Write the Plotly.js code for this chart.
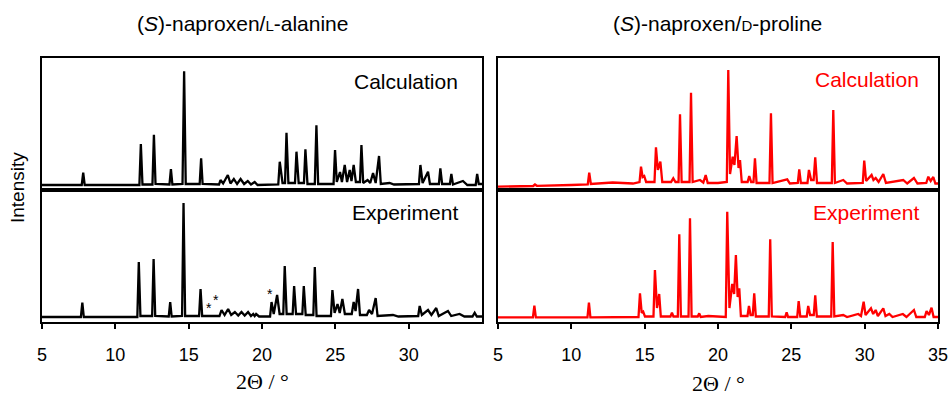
<!DOCTYPE html>
<html>
<head>
<meta charset="utf-8">
<script src="https://cdn.plot.ly/plotly-3.0.1.min.js"></script>
<style>html,body{margin:0;padding:0;background:#fff;}#chart{width:950px;height:396px;}</style>
</head>
<body>
<div id="chart"></div>
<script>
// 2Theta (deg) / intensity (arb.) pairs
const alanineCalc = [[5,5],[7.71,5],[7.81,17.3],[7.91,5],[11.64,5],[11.74,46],[11.85,5.5],[12.53,5.5],[12.63,55.3],[12.74,6],[13.69,5.5],[13.79,21],[13.89,5.5],[14.58,6],[14.69,118.7],[14.8,6],[15.75,6],[15.85,31.7],[15.95,6],[17.07,5.5],[17.17,10],[17.35,6.5],[17.67,15],[17.85,6.5],[18.08,11],[18.3,6],[18.54,11],[18.78,6],[19.03,9],[19.25,5.5],[19.5,8],[19.7,5],[21.11,5.5],[21.21,28.3],[21.4,7],[21.57,7],[21.67,57.3],[21.8,7],[22.25,7],[22.35,38.3],[22.5,7],[22.86,7],[22.96,40.7],[23.1,6],[23.6,6],[23.71,64.7],[23.83,6],[24.88,6],[24.98,40],[25.1,8],[25.32,18],[25.45,8],[25.64,25],[25.8,8],[25.98,20],[26.1,9],[26.25,25],[26.4,8],[26.68,8],[26.78,45],[26.9,7],[27.2,10],[27.38,7],[27.57,17],[27.75,7],[27.98,34],[28.1,6],[28.7,7],[29.0,5.5],[29.7,6],[30.0,5.5],[30.7,6],[30.8,25],[30.95,7],[31.32,18.3],[31.45,6],[32.06,6],[32.16,21.7],[32.28,6],[32.81,6],[32.91,16],[33.02,5.5],[33.7,9],[34.0,5],[34.57,5],[34.67,16],[34.78,6],[35,6]];
const alanineExp = [[5,5],[7.65,5],[7.75,19.3],[7.85,5],[11.5,5],[11.6,60],[11.71,6],[12.51,6],[12.61,63],[12.72,6],[13.64,5.5],[13.74,20],[13.84,5.5],[14.55,6],[14.65,119],[14.76,6],[15.71,6],[15.81,33],[15.92,6],[17.1,6],[17.24,12],[17.45,7],[17.69,13],[17.9,7],[18.15,10],[18.38,6.5],[18.6,10],[18.82,6.5],[19.05,10],[19.25,6],[19.4,8],[19.5,6],[19.6,8],[19.8,5.5],[20.55,5.5],[20.65,20],[20.8,8],[21.03,27],[21.2,8],[21.45,8],[21.55,56],[21.68,8],[22.09,8],[22.19,36],[22.32,8],[22.75,8],[22.85,36],[22.98,7],[23.5,7],[23.6,55],[23.72,6],[24.7,6],[24.8,32],[24.95,9],[25.15,18],[25.3,9],[25.48,23],[25.65,8],[26.12,8],[26.25,20],[26.38,11],[26.55,33],[26.68,7],[27.15,7],[27.3,12],[27.5,8],[27.75,24],[27.88,6],[28.93,7],[29.3,5.5],[30.65,6],[30.75,16],[30.9,7],[31.32,12],[31.55,7],[31.88,14],[32.05,6],[32.68,11],[32.9,6],[33.47,8],[33.8,5.5],[34.35,5.5],[34.5,9.3],[34.65,5.5],[35,5.5]];
const prolineCalc = [[5,3.3],[7.4,4],[7.52,5.5],[7.65,4.2],[10,5],[11.12,5.5],[11.22,17.3],[11.33,6],[12.82,7.5],[14.2,6.5],[14.65,8],[14.75,23.3],[14.86,13],[14.97,14],[15.1,8],[15.67,8],[15.77,42.7],[15.9,20],[16.07,28.3],[16.2,8],[16.8,8],[16.95,11.7],[17.1,8],[17.31,8],[17.41,75.7],[17.52,8],[18.06,8],[18.16,97.3],[18.27,8],[18.77,10],[19.0,7.5],[19.16,15],[19.3,7],[20.0,7],[20.6,8],[20.7,120],[20.82,16],[21.0,33.3],[21.12,25],[21.27,54],[21.4,22],[21.5,30],[21.62,8],[22.02,8],[22.13,14],[22.26,8],[22.42,8],[22.52,31.7],[22.63,7],[23.51,7],[23.61,76.7],[23.72,7],[24.72,10.7],[24.9,6.5],[25.44,7],[25.54,20.7],[25.65,7],[26.1,7],[26.2,20],[26.35,10],[26.52,10],[26.63,32.7],[26.75,7],[27.76,7],[27.86,80],[27.97,7],[28.54,10],[28.8,6.5],[29.87,7],[29.97,29.3],[30.1,9],[30.47,15],[30.6,10],[30.75,12],[30.95,8],[31.27,16],[31.45,7],[32.63,10],[32.9,6.5],[33.36,12],[33.6,6.5],[34.2,7],[34.34,13.3],[34.5,9],[34.68,13],[34.82,6.5],[35,6.5]];
const prolineExp = [[5,4.7],[7.38,4.7],[7.48,16.3],[7.58,4.7],[11.1,4.7],[11.2,19.3],[11.3,4.7],[14.58,5],[14.68,28.7],[14.8,9],[14.9,10.3],[15.02,5.5],[15.6,5.5],[15.7,52],[15.84,14],[15.99,28],[16.1,5.5],[16.76,5.5],[16.86,9.3],[16.96,5.5],[17.26,5.5],[17.36,87.7],[17.47,5.5],[17.99,5.5],[18.09,103.7],[18.2,5.5],[18.62,5.5],[18.72,8.7],[18.82,5],[19.34,6],[20.53,5],[20.63,110.3],[20.78,14],[20.97,38],[21.1,28],[21.22,67],[21.34,25],[21.45,33.7],[21.56,6],[22.01,6],[22.11,16],[22.22,7],[22.37,7],[22.47,28.7],[22.58,5.5],[23.46,5.5],[23.56,82.7],[23.67,5.5],[24.58,5],[24.68,9.7],[24.78,5],[25.4,5],[25.5,21],[25.61,5.5],[26.05,5.5],[26.15,16],[26.28,7],[26.53,7],[26.63,26.7],[26.74,5.5],[27.72,5.5],[27.82,80],[27.93,5.5],[28.54,7],[28.8,5],[29.56,8],[29.75,6],[29.93,20.3],[30.06,7],[30.43,13.7],[30.58,8],[30.75,12],[30.9,6],[31.27,13.7],[31.42,6],[31.68,8],[31.9,5],[32.6,8],[32.85,5],[33.36,12],[33.52,5],[34.1,5],[34.22,11],[34.38,7],[34.56,14.3],[34.7,5],[35,5]];
// impurity markers (*) in the L-alanine experiment
const starX = [16.38, 16.83, 20.53];
const starY = [15.3, 22.7, 28.7];
const leftTicks = [5, 10, 15, 20, 25, 30];
const rightTicks = [5, 10, 15, 20, 25, 30, 35];

function tr(pairs, color, xa, ya) {
  return {x: pairs.map(p => p[0]), y: pairs.map(p => p[1]), type: 'scatter', mode: 'lines',
          line: {color: color, width: 2.3}, xaxis: xa, yaxis: ya, hoverinfo: 'skip', showlegend: false};
}
const data = [
  tr(alanineCalc, '#000000', 'x', 'y'),
  tr(alanineExp, '#000000', 'x2', 'y2'),
  tr(prolineCalc, '#ff0000', 'x3', 'y3'),
  tr(prolineExp, '#ff0000', 'x4', 'y4')
];
const L = [42/950, 482/950], R = [498/950, 938/950];
const TOP = [1-190/396, 1-58/396], BOT = [1-322/396, 1-190/396];
const tickFont = {family: 'Liberation Sans, Arial, sans-serif', size: 18, color: '#000'};
function xa(dom, anchor, ticks, show) {
  return {domain: dom, anchor: anchor, range: [5, 35], showgrid: false, zeroline: false,
          showline: true, mirror: true, linecolor: '#000', linewidth: 2,
          ticks: show ? 'outside' : '', ticklen: 5, tickwidth: 2, tickcolor: '#000',
          tickmode: 'array', tickvals: show ? ticks : [], showticklabels: show,
          tickfont: tickFont, ticklabelstandoff: 10};
}
function ya(dom, anchor) {
  return {domain: dom, anchor: anchor, range: [0, 132], showgrid: false, zeroline: false,
          showline: true, mirror: true, linecolor: '#000', linewidth: 2,
          ticks: '', showticklabels: false};
}
const sans = 'Liberation Sans, Arial, sans-serif';
const ann = [];
function A(text, x, y, opts) { ann.push(Object.assign({text: text, x: x, y: y, xref: 'paper', yref: 'paper', showarrow: false,
  xanchor: 'center', yanchor: 'middle', font: {family: sans, size: 21, color: '#000'}}, opts || {})); }
A('(<i>S</i>)-naproxen/<span style="font-size:15px">L</span>-alanine', 243/950, 1-24/396);
A('(<i>S</i>)-naproxen/<span style="font-size:15px">D</span>-proline', 717/950, 1-24/396);
A('Calculation', 460/950, 1-81/396, {xanchor: 'right', font: {family: sans, size: 21, color: '#000'}});
A('Experiment', 460/950, 1-212/396, {xanchor: 'right', font: {family: sans, size: 21, color: '#000'}});
A('Calculation', 921/950, 1-80/396, {xanchor: 'right', font: {family: sans, size: 21, color: '#ff0000'}});
A('Experiment', 921/950, 1-212/396, {xanchor: 'right', font: {family: sans, size: 21, color: '#ff0000'}});
A('Intensity', 18/950, 1-188/396, {textangle: -90, font: {family: sans, size: 19, color: '#000'}});
A('2Θ / °', 262/950, 1-381/396, {font: {family: 'Liberation Serif, Times New Roman, serif', size: 22, color: '#000'}});
A('2Θ / °', 718/950, 1-383/396, {font: {family: 'Liberation Serif, Times New Roman, serif', size: 22, color: '#000'}});
for (let i = 0; i < starX.length; i++) {
  ann.push({text: '*', x: starX[i], y: starY[i], xref: 'x2', yref: 'y2', showarrow: false,
            xanchor: 'center', yanchor: 'bottom', yshift: -11, font: {family: sans, size: 14, color: '#000'}});
}
const layout = {
  width: 950, height: 396, margin: {l: 0, r: 0, t: 0, b: 0},
  paper_bgcolor: '#fff', plot_bgcolor: '#fff', showlegend: false,
  xaxis: xa(L, 'y', leftTicks, false), yaxis: ya(TOP, 'x'),
  xaxis2: xa(L, 'y2', leftTicks, true), yaxis2: ya(BOT, 'x2'),
  xaxis3: xa(R, 'y3', rightTicks, false), yaxis3: ya(TOP, 'x3'),
  xaxis4: xa(R, 'y4', rightTicks, true), yaxis4: ya(BOT, 'x4'),
  annotations: ann
};
Plotly.newPlot('chart', data, layout, {staticPlot: true, displayModeBar: false});
</script>
</body>
</html>
